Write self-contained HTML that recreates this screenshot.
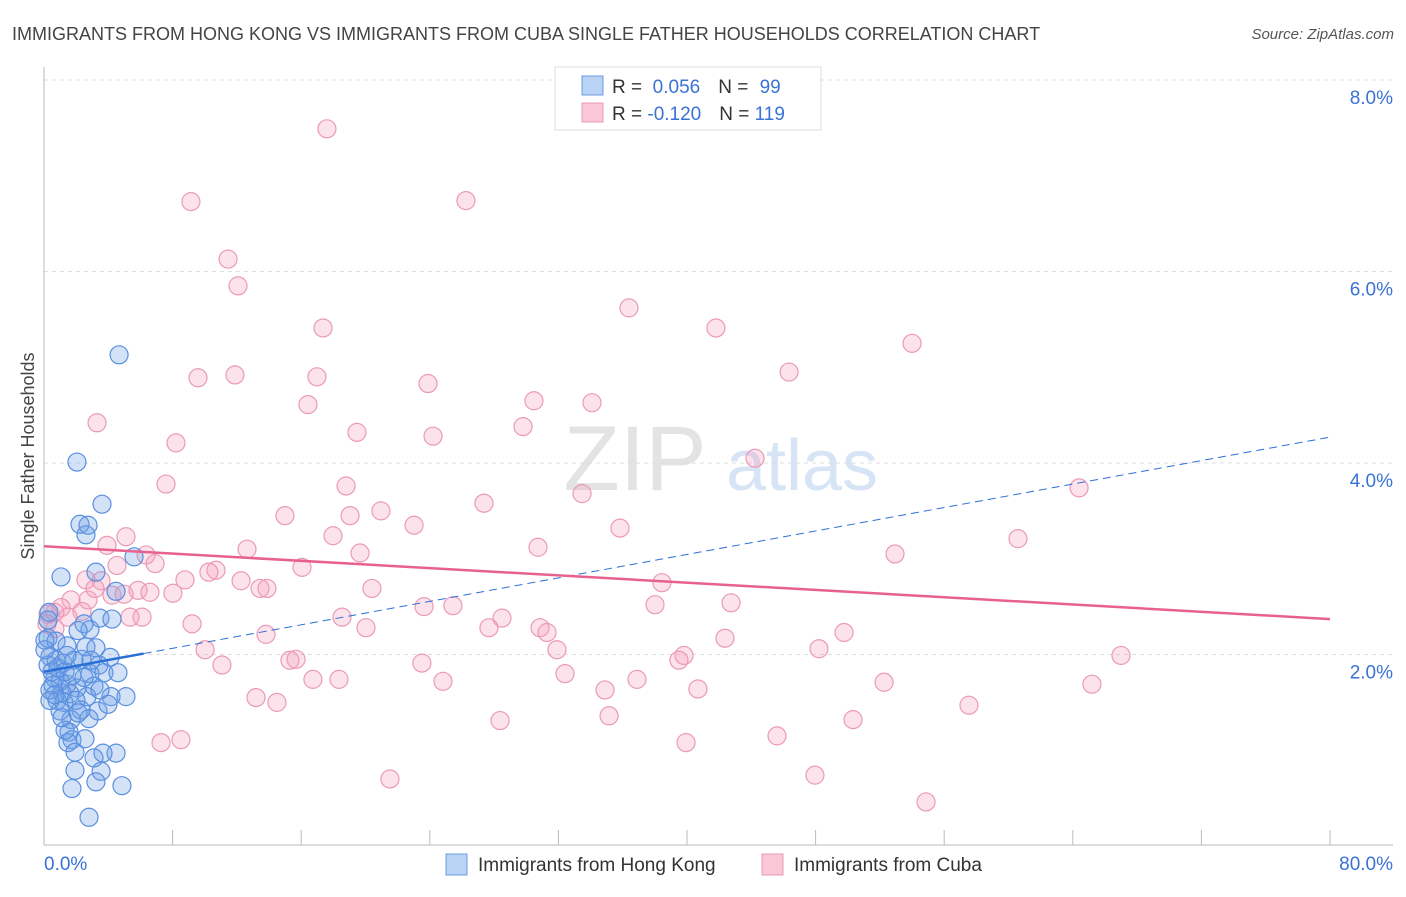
<!DOCTYPE html>
<html><head><meta charset="utf-8"><style>
body{margin:0;background:#fff;font-family:"Liberation Sans",sans-serif;}
svg text{font-family:"Liberation Sans",sans-serif;}
</style></head><body>
<svg id="chart" width="1406" height="892" xmlns="http://www.w3.org/2000/svg">
<text x="12" y="40" font-size="18" fill="#444">IMMIGRANTS FROM HONG KONG VS IMMIGRANTS FROM CUBA SINGLE FATHER HOUSEHOLDS CORRELATION CHART</text>
<text x="1394" y="39" font-size="15" fill="#555" text-anchor="end" font-style="italic">Source: ZipAtlas.com</text>
<g>
<text x="635" y="490" font-size="92" fill="#e3e3e3" text-anchor="middle" font-family="Liberation Serif,serif">ZIP</text>
<text x="802" y="490" font-size="72" fill="#d6e4f5" text-anchor="middle">atlas</text>
</g>
<g id="grid"></g>
<g id="axes"></g>
<g id="pts"></g>
<g id="trends"></g>
<text transform="translate(34,456) rotate(-90)" font-size="18" fill="#444" text-anchor="middle">Single Father Households</text>
<g>
<rect x="555" y="67" width="266" height="63" fill="#fff" stroke="#ddd"/>
<rect x="582" y="76" width="21" height="19" fill="#b9d3f5" stroke="#6a9be0"/>
<rect x="582" y="103" width="21" height="19" fill="#f9c7d6" stroke="#eb9ab6"/>
<text x="612" y="93" font-size="19" fill="#333">R = <tspan fill="#3a72d6">&#160;0.056</tspan><tspan dx="18">N = </tspan><tspan fill="#3a72d6" dx="6">99</tspan></text>
<text x="612" y="120" font-size="19" fill="#333">R = <tspan fill="#3a72d6">-0.120</tspan><tspan dx="18">N = </tspan><tspan fill="#3a72d6">119</tspan></text>
</g>
<g>
<rect x="446" y="854" width="21" height="21" fill="#b9d3f5" stroke="#6a9be0"/>
<text x="478" y="871" font-size="19" fill="#333">Immigrants from Hong Kong</text>
<rect x="762" y="854" width="21" height="21" fill="#f9c7d6" stroke="#eb9ab6"/>
<text x="794" y="871" font-size="19" fill="#333">Immigrants from Cuba</text>
</g>
</svg>
<script>
const xTicks=[0,8,16,24,32,40,48,56,64,72,80];
const yTicks=[2,4,6,8];
const yTickLabels=["2.0%","4.0%","6.0%","8.0%"];
const xEndLabels=["0.0%","80.0%"];
const blueX=[4.67,2.05,3.61,2.24,2.74,2.61,5.60,1.06,3.23,4.48,3.48,4.23,2.49,0.31,0.25,2.86,2.12,0.25,0.75,1.43,2.61,3.23,4.11,0.37,0.75,1.18,1.87,2.36,3.42,2.86,3.73,4.60,0.68,1.0,1.43,2.05,3.11,0.37,1.12,1.62,2.67,4.17,5.10,0.81,1.24,1.99,2.30,3.36,1.0,1.68,2.80,1.56,1.74,1.49,2.55,4.48,3.67,1.93,3.11,1.93,3.55,3.23,4.85,1.74,2.80,0.25,0.50,0.87,1.31,0.56,0.06,0.06,0.37,2.12,3.98,1.31,3.48,2.92,1.43,2.49,1.74,0.68,1.12];
const blueY=[5.13,4.01,3.57,3.36,3.35,3.25,3.02,2.81,2.86,2.66,2.38,2.37,2.32,2.44,2.36,2.26,2.25,2.17,2.14,2.09,2.08,2.07,1.97,1.98,1.94,1.91,1.94,1.95,1.89,1.80,1.81,1.81,1.75,1.72,1.69,1.65,1.67,1.63,1.60,1.59,1.56,1.56,1.56,1.52,1.50,1.52,1.42,1.41,1.41,1.32,1.33,1.19,1.11,1.08,1.12,0.97,0.97,0.98,0.92,0.79,0.78,0.67,0.63,0.60,0.30,1.89,1.82,1.86,1.82,1.68,2.05,2.15,1.52,1.39,1.48,1.21,1.63,1.94,1.99,1.76,1.78,1.58,1.34];
const pinkX=[17.6,9.14,26.25,11.45,12.07,36.39,17.36,41.8,54.0,9.58,11.88,16.98,23.89,46.35,16.42,30.48,34.09,3.30,19.47,29.8,24.2,8.21,44.23,7.59,18.79,64.39,33.47,27.37,14.99,19.04,20.96,23.02,35.83,5.10,17.98,60.59,3.92,30.73,12.63,19.66,52.94,6.35,4.54,6.91,16.05,10.70,10.26,3.55,8.77,12.26,2.61,38.44,20.40,13.44,13.87,5.85,4.23,4.98,8.02,6.59,1.68,2.74,3.17,2.36,1.06,1.49,6.10,5.35,18.54,23.64,25.44,28.49,38.01,42.74,9.21,0.68,27.68,20.03,30.86,31.29,13.81,42.36,49.77,31.91,10.02,48.21,39.81,67.0,15.68,15.30,39.50,23.51,11.07,16.73,18.35,32.41,24.82,36.89,65.19,52.26,34.90,40.68,13.19,14.49,57.54,35.15,28.37,50.33,7.28,8.52,39.94,45.6,21.52,47.96,54.87,0.25,0.68,0.19];
const pinkY=[7.49,6.73,6.74,6.13,5.85,5.62,5.41,5.41,5.25,4.89,4.92,4.90,4.83,4.95,4.61,4.65,4.63,4.42,4.32,4.38,4.28,4.21,4.05,3.78,3.76,3.74,3.68,3.58,3.45,3.45,3.50,3.35,3.32,3.23,3.24,3.21,3.14,3.12,3.10,3.06,3.05,3.04,2.93,2.95,2.91,2.88,2.86,2.77,2.78,2.77,2.78,2.75,2.69,2.69,2.69,2.67,2.62,2.63,2.64,2.65,2.57,2.57,2.69,2.45,2.49,2.39,2.39,2.39,2.39,2.50,2.51,2.38,2.52,2.54,2.32,2.27,2.28,2.28,2.28,2.23,2.21,2.17,2.23,2.05,2.05,2.06,1.99,1.99,1.95,1.94,1.94,1.91,1.89,1.74,1.74,1.80,1.72,1.74,1.69,1.71,1.63,1.64,1.55,1.50,1.47,1.36,1.31,1.32,1.08,1.11,1.08,1.15,0.70,0.74,0.46,2.42,2.44,2.32];
const blueTrend=[1.82,4.27]; // y at x=0 and x=80
const blueSolidEnd=6.2;
const pinkTrend=[3.13,2.37];
const NS="http://www.w3.org/2000/svg";
const X=v=>44+v*1286/80;
const Y=v=>846-v*95.75;
function mk(tag,attrs,parent){const e=document.createElementNS(NS,tag);for(const k in attrs)e.setAttribute(k,attrs[k]);parent.appendChild(e);return e;}
const grid=document.getElementById('grid'),axes=document.getElementById('axes'),pts=document.getElementById('pts'),tr=document.getElementById('trends');
yTicks.forEach((t,i)=>{
 const l=mk('line',{x1:44,x2:1393,y1:Y(t),y2:Y(t),stroke:'#ddd','stroke-dasharray':'4,4'},grid);
 
 
 const tx=mk('text',{x:1393,y:Y(t)+24,'font-size':19,fill:'#3a72d6','text-anchor':'end'},axes);
 tx.textContent=yTickLabels[i];
 
 
});
let a=mk('line',{x1:44,x2:44,y1:67,y2:845,stroke:'#bbb'},axes);


a=mk('line',{x1:44,x2:1393,y1:845,y2:845,stroke:'#bbb'},axes);


xTicks.forEach(t=>{
 const l=mk('line',{x1:X(t),x2:X(t),y1:830,y2:845,stroke:'#bbb'},axes);
 
 
});
let t0=mk('text',{x:44,y:870,'font-size':19,fill:'#3a72d6'},axes);t0.textContent=xEndLabels[0];


let t1=mk('text',{x:1393,y:870,'font-size':19,fill:'#3a72d6','text-anchor':'end'},axes);t1.textContent=xEndLabels[1];


pinkX.forEach((x,i)=>{
 const c=mk('circle',{cx:X(x),cy:Y(pinkY[i]),r:9,fill:'rgba(244,160,188,0.3)',stroke:'#eb9ab6','stroke-width':1.2},pts);
 
 
});
blueX.forEach((x,i)=>{
 const c=mk('circle',{cx:X(x),cy:Y(blueY[i]),r:9,fill:'rgba(110,160,230,0.3)',stroke:'#5a8fe0','stroke-width':1.2},pts);
 
 
});
const by=x=>blueTrend[0]+(blueTrend[1]-blueTrend[0])*x/80;
let l=mk('line',{x1:X(0),y1:Y(blueTrend[0]),x2:X(blueSolidEnd),y2:Y(by(blueSolidEnd)),stroke:'#2b6fd6','stroke-width':2.5},tr);


l=mk('line',{x1:X(blueSolidEnd),y1:Y(by(blueSolidEnd)),x2:X(80),y2:Y(blueTrend[1]),stroke:'#2b6fd6','stroke-width':1,'stroke-dasharray':'8,5'},tr);


l=mk('line',{x1:X(0),y1:Y(pinkTrend[0]),x2:X(80),y2:Y(pinkTrend[1]),stroke:'#e8608e','stroke-width':2.5},tr);


</script>
</body></html>
